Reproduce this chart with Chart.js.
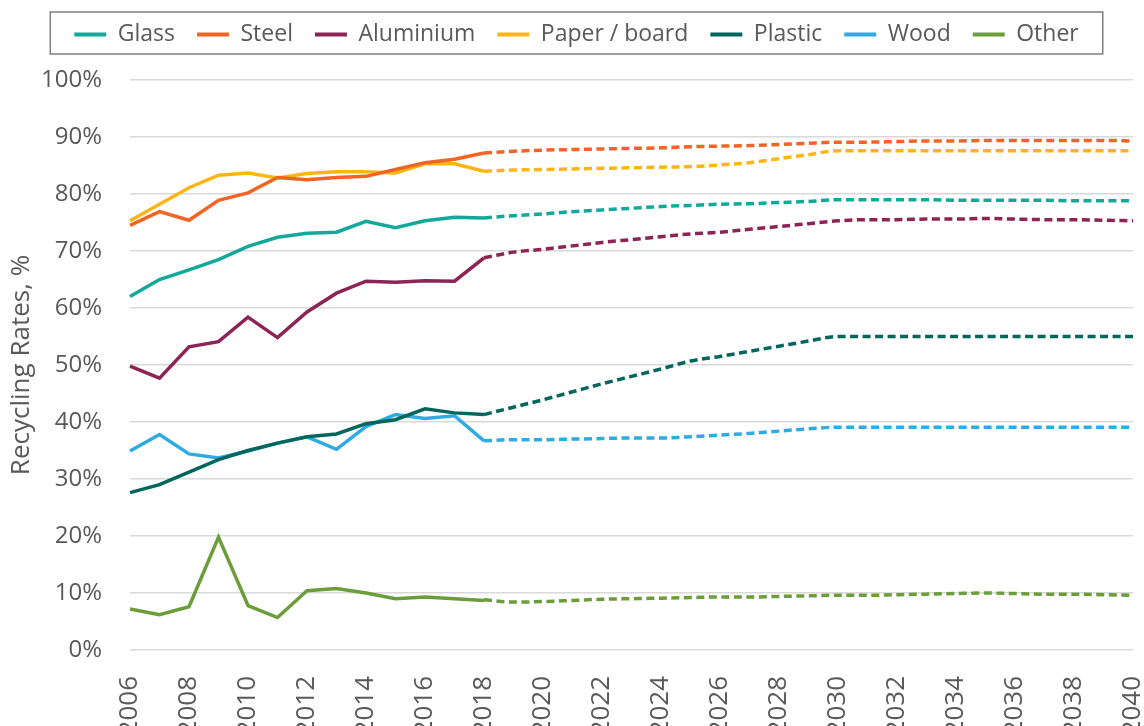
<!DOCTYPE html>
<html>
<head>
<meta charset="utf-8">
<script src="https://cdn.jsdelivr.net/npm/chart.js@4.4.0/dist/chart.umd.min.js"></script>
<style>
  html, body { margin: 0; padding: 0; background: #fff; overflow: hidden; }
  #wrap { position: relative; width: 1144px; height: 726px; }
</style>
</head>
<body>
<div id="wrap"><canvas id="chart"></canvas></div>
<script>
// years on the x axis
const years = [];
for (let y = 2006; y <= 2040; y++) years.push(String(y));

// historic values 2006-2018 (%)
const glassHist = [62.0, 65.0, 66.7, 68.5, 70.8, 72.4, 73.1, 73.3, 75.2, 74.1, 75.3, 75.9, 75.8];
const steelHist = [74.5, 76.9, 75.4, 78.9, 80.2, 82.9, 82.5, 82.9, 83.1, 84.3, 85.5, 86.1, 87.2];
const aluHist = [49.8, 47.7, 53.2, 54.1, 58.4, 54.8, 59.3, 62.6, 64.7, 64.5, 64.8, 64.7, 68.8];
const paperHist = [75.3, 78.2, 81.1, 83.3, 83.7, 82.8, 83.6, 83.9, 83.9, 83.7, 85.3, 85.3, 84.0];
const plasticHist = [27.6, 29.0, 31.2, 33.4, 35.0, 36.3, 37.4, 37.9, 39.7, 40.4, 42.3, 41.6, 41.3];
const woodHist = [34.9, 37.8, 34.4, 33.7, 34.9, 36.3, 37.4, 35.2, 39.2, 41.3, 40.6, 41.1, 36.7];
const otherHist = [7.2, 6.2, 7.6, 19.8, 7.8, 5.7, 10.4, 10.8, 10.0, 9.0, 9.3, 9.0, 8.7];

// projected values 2018-2040 (%)
const glassProj = [75.8, 76.2, 76.5, 76.9, 77.2, 77.5, 77.8, 78.0, 78.2, 78.3, 78.5, 78.7, 79.0, 79.0, 79.0, 79.0, 78.9, 78.9, 78.9, 78.9, 78.8, 78.8, 78.8];
const steelProj = [87.2, 87.5, 87.7, 87.8, 87.9, 88.0, 88.1, 88.3, 88.4, 88.5, 88.7, 88.9, 89.1, 89.1, 89.2, 89.3, 89.3, 89.4, 89.4, 89.4, 89.4, 89.4, 89.3];
const aluProj = [68.8, 69.8, 70.3, 70.9, 71.5, 72.0, 72.5, 73.0, 73.3, 73.8, 74.3, 74.8, 75.3, 75.5, 75.5, 75.6, 75.6, 75.7, 75.6, 75.5, 75.5, 75.4, 75.3];
const paperProj = [84.0, 84.2, 84.3, 84.4, 84.5, 84.6, 84.7, 84.8, 85.1, 85.5, 86.2, 86.9, 87.6, 87.6, 87.6, 87.6, 87.6, 87.6, 87.6, 87.6, 87.6, 87.6, 87.6];
const plasticProj = [41.3, 42.6, 43.9, 45.3, 46.7, 48.0, 49.3, 50.7, 51.5, 52.4, 53.3, 54.2, 55.0, 55.0, 55.0, 55.0, 55.0, 55.0, 55.0, 55.0, 55.0, 55.0, 55.0];
const woodProj = [36.7, 36.9, 36.9, 37.0, 37.1, 37.2, 37.2, 37.4, 37.7, 38.0, 38.4, 38.8, 39.1, 39.1, 39.1, 39.1, 39.1, 39.1, 39.1, 39.1, 39.1, 39.1, 39.1];
const otherProj = [8.8, 8.4, 8.5, 8.7, 8.9, 9.0, 9.1, 9.2, 9.3, 9.3, 9.4, 9.5, 9.6, 9.6, 9.7, 9.8, 9.9, 10.0, 9.9, 9.8, 9.8, 9.7, 9.6];

const yTicks = [0, 10, 20, 30, 40, 50, 60, 70, 80, 90, 100];

const series = [
  { name: "Glass", color: "#12A89A", hist: glassHist, proj: glassProj },
  { name: "Steel", color: "#F26424", hist: steelHist, proj: steelProj },
  { name: "Aluminium", color: "#8C2456", hist: aluHist, proj: aluProj },
  { name: "Paper / board", color: "#FDB515", hist: paperHist, proj: paperProj },
  { name: "Plastic", color: "#02665C", hist: plasticHist, proj: plasticProj },
  { name: "Wood", color: "#2DABE2", hist: woodHist, proj: woodProj },
  { name: "Other", color: "#6B9E3A", hist: otherHist, proj: otherProj },
];

const nHist = series[0].hist.length;
const datasets = [];
series.forEach((s) => {
  datasets.push({
    label: s.name,
    data: s.hist.concat(Array(years.length - nHist).fill(null)),
    borderColor: s.color,
    backgroundColor: s.color,
    borderWidth: 3.5,
    pointRadius: 0,
    tension: 0,
    fill: false,
  });
});
series.forEach((s) => {
  datasets.push({
    label: s.name + " (projection)",
    data: Array(nHist - 1).fill(null).concat(s.proj),
    borderColor: s.color,
    backgroundColor: s.color,
    borderWidth: 3.5,
    borderDash: [8, 4.5],
    pointRadius: 0,
    tension: 0.3,
    cubicInterpolationMode: "monotone",
    fill: false,
  });
});

const textColor = "#595959";
const fontFamily = "'Open Sans', 'Liberation Sans', sans-serif";
const legendShift = 10;

// extra space under the legend, small shift right, and a frame around it
const legendExtras = {
  id: "legendExtras",
  beforeInit(chart) {
    const fit = chart.legend.fit;
    chart.legend.fit = function () {
      fit.bind(chart.legend)();
      this.height += 24;
    };
  },
  afterUpdate(chart) {
    chart.legend.left += legendShift;
    chart.legend.right += legendShift;
  },
  afterDraw(chart) {
    const boxes = chart.legend.legendHitBoxes;
    if (!boxes || !boxes.length) return;
    let l = Infinity, r = -Infinity;
    boxes.forEach((h) => {
      l = Math.min(l, h.left);
      r = Math.max(r, h.left + h.width);
    });
    l += legendShift;
    r += legendShift;
    const ctx = chart.ctx;
    ctx.save();
    ctx.strokeStyle = "#7F7F7F";
    ctx.lineWidth = 1.5;
    ctx.strokeRect(l - 24, 12, r - l + 48, 42);
    ctx.restore();
  },
};

new Chart(document.getElementById("chart").getContext("2d"), {
  type: "line",
  data: { labels: years, datasets: datasets },
  plugins: [legendExtras],
  options: {
    responsive: true,
    maintainAspectRatio: false,
    animation: false,
    layout: { padding: { top: 1, left: 0, right: 11, bottom: 0 } },
    plugins: {
      tooltip: { enabled: false },
      legend: {
        position: "top",
        labels: {
          filter: (item) => item.datasetIndex < series.length,
          boxWidth: 32,
          boxHeight: 4,
          padding: 22,
          color: textColor,
          font: { family: fontFamily, size: 23 },
          generateLabels: (chart) =>
            chart.data.datasets.map((ds, i) => ({
              text: ds.label,
              fillStyle: ds.borderColor,
              strokeStyle: ds.borderColor,
              lineWidth: 0,
              datasetIndex: i,
              fontColor: textColor,
            })),
        },
      },
    },
    scales: {
      x: {
        type: "category",
        offset: false,
        grid: { display: false },
        border: { display: false },
        afterFit: (axis) => {
          axis.height = 76;
          axis.paddingLeft = 0;
          axis.paddingRight = 0;
        },
        ticks: {
          autoSkip: false,
          minRotation: 90,
          maxRotation: 90,
          padding: 18,
          color: textColor,
          font: { family: fontFamily, size: 26 },
          callback: function (value, index) {
            const y = Number(years[index]);
            return y % 2 === 0 ? years[index] : "";
          },
        },
      },
      y: {
        min: yTicks[0],
        max: yTicks[yTicks.length - 1],
        afterBuildTicks: (axis) => {
          axis.ticks = yTicks.map((v) => ({ value: v }));
        },
        afterFit: (axis) => {
          axis.width = 130;
        },
        grid: { color: "#D9D9D9", lineWidth: 1.5, drawTicks: false },
        border: { display: false },
        ticks: {
          padding: 28,
          color: textColor,
          font: { family: fontFamily, size: 24 },
          callback: (v) => v + "%",
        },
        title: {
          display: true,
          text: "Recycling Rates, %",
          color: textColor,
          font: { family: fontFamily, size: 26 },
          padding: { top: 6, bottom: 0 },
        },
      },
    },
  },
});
</script>
</body>
</html>
